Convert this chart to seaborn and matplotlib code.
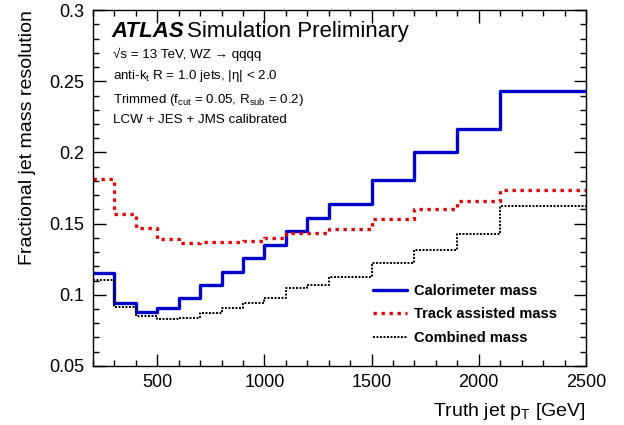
import matplotlib
matplotlib.use("Agg")
import matplotlib.pyplot as plt
import seaborn as sns
import pandas as pd
from matplotlib.ticker import MultipleLocator, FuncFormatter

sns.set_style("white")
plt.rcParams.update({
    'font.family': ['Liberation Sans', 'DejaVu Sans'],
    'mathtext.default': 'regular',
    'text.color': 'black',
    'axes.labelcolor': 'black',
    'axes.edgecolor': 'black',
    'xtick.color': 'black',
    'ytick.color': 'black',
    'xtick.direction': 'in',
    'ytick.direction': 'in',
    'xtick.top': True,
    'xtick.bottom': True,
    'ytick.left': True,
    'ytick.right': True,
    'xtick.major.size': 9,
    'ytick.major.size': 9,
    'xtick.minor.size': 4.5,
    'ytick.minor.size': 4.5,
    'xtick.major.width': 1.0,
    'ytick.major.width': 1.0,
    'xtick.minor.width': 1.0,
    'ytick.minor.width': 1.0,
})

# bin edges in truth jet pT [GeV]
bordes_pt = [200, 300, 400, 500, 600, 700, 800, 900, 1000, 1100, 1200,
             1300, 1500, 1700, 1900, 2100, 2500]

calorimetro = [0.115, 0.094, 0.088, 0.091, 0.098, 0.107, 0.116, 0.126,
               0.135, 0.145, 0.154, 0.1635, 0.181, 0.200, 0.2165, 0.2435]
track_assisted = [0.1815, 0.157, 0.147, 0.139, 0.1365, 0.137, 0.137, 0.138,
                  0.140, 0.1435, 0.1435, 0.1462, 0.1535, 0.160, 0.166, 0.1738]
combinada = [0.1105, 0.0917, 0.0852, 0.0828, 0.0835, 0.087, 0.091, 0.094,
             0.098, 0.1047, 0.1066, 0.1124, 0.1223, 0.1313, 0.1428, 0.1624]

nombres = ['Calorimeter mass', 'Track assisted mass', 'Combined mass']
colores = ['#0000cc', '#dd0000', '#000000']
trazos = ['', (1, 1.4), (1, 0.8)]
grosores = [2.4, 2.4, 1.4]


def escalones(valores):
    # repeat last value so the final bin gets drawn up to the last edge
    return list(valores) + [valores[-1]]


df = pd.concat([pd.DataFrame({'pt': bordes_pt, 'res': escalones(v), 'serie': n})
                for n, v in zip(nombres, [calorimetro, track_assisted, combinada])])

fig = plt.figure(figsize=(6.24, 4.25), dpi=100)
ax = fig.add_axes([0.149, 0.139, 0.790, 0.837])

sns.lineplot(data=df, x='pt', y='res', hue='serie', style='serie',
             hue_order=nombres, style_order=nombres,
             palette=dict(zip(nombres, colores)), dashes=dict(zip(nombres, trazos)),
             drawstyle='steps-post', errorbar=None, lw=2.4, ax=ax)

lineas_plot = ax.get_lines()[:3]
for linea, grosor in zip(lineas_plot, grosores):
    linea.set_linewidth(grosor)
    linea.set_dash_capstyle('butt')

ax.set_xlim(200, 2500)
ax.set_ylim(0.05, 0.3)
ax.xaxis.set_major_locator(MultipleLocator(500))
ax.xaxis.set_minor_locator(MultipleLocator(100))
ax.yaxis.set_major_locator(MultipleLocator(0.05))
ax.yaxis.set_minor_locator(MultipleLocator(0.01))
ax.yaxis.set_major_formatter(FuncFormatter(lambda v, p: '%g' % round(v, 3)))
for lado in ax.spines.values():
    lado.set_linewidth(1.0)

ax.set_xlabel('Truth jet p$_{T}$ [GeV]', fontsize=14, loc='right', labelpad=7)
ax.set_ylabel('Fractional jet mass resolution', fontsize=14, loc='top', labelpad=10)

ax.text(0.038, 0.924, 'ATLAS', transform=ax.transAxes, fontsize=16,
        fontweight='bold', fontstyle='italic', va='baseline')
ax.text(0.19, 0.924, 'Simulation Preliminary', transform=ax.transAxes, fontsize=16,
        va='baseline')
lineas = ['√s = 13 TeV, WZ → qqqq',
          'anti-k$_{t}$ R = 1.0 jets, |η| < 2.0',
          'Trimmed (f$_{cut}$ = 0.05, R$_{sub}$ = 0.2)',
          'LCW + JES + JMS calibrated']
alturas = [0.865, 0.806, 0.740, 0.683]
for linea, altura in zip(lineas, alturas):
    ax.text(0.04, altura, linea, transform=ax.transAxes, fontsize=9.6, va='baseline')

ax.legend(handles=lineas_plot, labels=nombres, loc='lower right',
          bbox_to_anchor=(0.968, 0.022), frameon=False,
          handlelength=2.3, handletextpad=0.5, labelspacing=0.66,
          prop={'weight': 'bold', 'size': 10.5})

# ROOT-style ticks on all four sides
ax.tick_params(which='both', direction='in', bottom=True, left=True, top=True, right=True,
               width=1.0, color='black', labelcolor='black', labelsize=13)
ax.tick_params(which='major', length=9, pad=6)
ax.tick_params(which='minor', length=4.5)

fig.savefig('out.png', dpi=100)
